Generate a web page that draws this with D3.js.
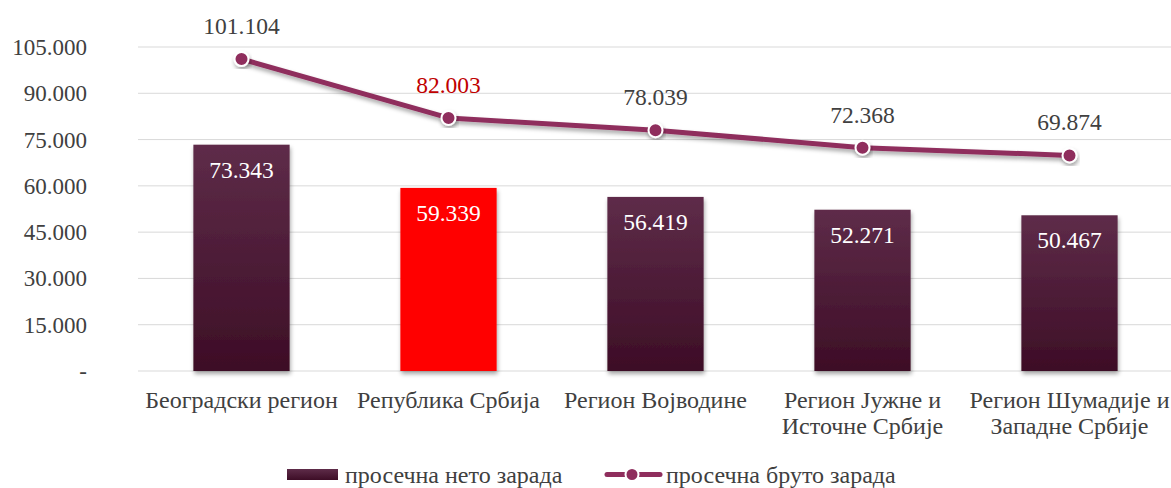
<!DOCTYPE html>
<html>
<head>
<meta charset="utf-8">
<script src="https://cdn.jsdelivr.net/npm/d3@7"></script>
<style>
  body { margin: 0; background: #fff; }
  text { font-family: "Liberation Serif", "Times New Roman", serif; }
</style>
</head>
<body>
<svg width="1171" height="488"></svg>
<script>
const regions = [["Београдски регион"], ["Република Србија"], ["Регион Војводине"],
                 ["Регион Јужне и", "Источне Србије"], ["Регион Шумадије и", "Западне Србије"]];
const netoValues = [73343, 59339, 56419, 52271, 50467];
const brutoValues = [101104, 82003, 78039, 72368, 69874];
const yTicks = [0, 15000, 30000, 45000, 60000, 75000, 90000, 105000];
const seriesNames = ["просечна нето зарада", "просечна бруто зарада"];
const highlightIndex = 1;

const svg = d3.select("svg");
const margin = { top: 47, right: 0, bottom: 117, left: 138 };
const width = 1173 - margin.left;
const height = 488 - margin.top - margin.bottom;
const fs = "24px";

const fmt = v => v === 0 ? "-" : d3.format(",.0f")(v).replace(/,/g, ".");

const defs = svg.append("defs");
const grad = defs.append("linearGradient").attr("id", "barGrad")
  .attr("x1", 0).attr("y1", 0).attr("x2", 0).attr("y2", 1);
grad.append("stop").attr("offset", "0%").attr("stop-color", "#5e2c49");
grad.append("stop").attr("offset", "100%").attr("stop-color", "#3d0d26");

const shadow = defs.append("filter").attr("id", "shadow")
  .attr("x", "-20%").attr("y", "-20%").attr("width", "140%").attr("height", "140%");
shadow.append("feDropShadow").attr("dx", 1).attr("dy", 3).attr("stdDeviation", 2)
  .attr("flood-color", "#000").attr("flood-opacity", 0.35);

const g = svg.append("g").attr("transform", `translate(${margin.left},${margin.top})`);

const x = d3.scaleBand().domain(d3.range(regions.length)).range([0, width]).paddingInner(0.535).paddingOuter(0.2675);
const y = d3.scaleLinear().domain([0, 105000]).range([height, 0]);

// grid
g.selectAll(".grid").data(yTicks).join("line")
  .attr("x1", 0).attr("x2", width)
  .attr("y1", d => y(d)).attr("y2", d => y(d))
  .attr("stroke", "#d9d9d9").attr("stroke-width", 1);

// y axis labels
g.selectAll(".ylab").data(yTicks).join("text")
  .attr("x", -51).attr("y", d => y(d)).attr("dy", "0.35em")
  .attr("text-anchor", "end").attr("fill", "#404040").attr("font-size", "23px")
  .text(fmt);

// bars
g.selectAll(".bar").data(netoValues).join("rect")
  .attr("x", (d, i) => x(i)).attr("width", x.bandwidth())
  .attr("y", d => y(d)).attr("height", d => height - y(d))
  .attr("fill", (d, i) => i === highlightIndex ? "#ff0000" : "url(#barGrad)")
  .attr("filter", "url(#shadow)");

g.selectAll(".barlab").data(netoValues).join("text")
  .attr("x", (d, i) => x(i) + x.bandwidth() / 2).attr("y", d => y(d) + 33)
  .attr("text-anchor", "middle").attr("fill", "#fff").attr("font-size", "23.5px")
  .text(fmt);

// line
const cx = i => x(i) + x.bandwidth() / 2;
const line = d3.line().x((d, i) => cx(i)).y(d => y(d));
g.append("path").datum(brutoValues)
  .attr("d", line).attr("fill", "none").attr("stroke", "#8f2e5d")
  .attr("stroke-width", 5).attr("stroke-linejoin", "round")
  .attr("filter", "url(#shadow)");

g.selectAll(".pt").data(brutoValues).join("circle")
  .attr("cx", (d, i) => cx(i)).attr("cy", d => y(d)).attr("r", 7)
  .attr("fill", "#8f2e5d").attr("stroke", "#fff").attr("stroke-width", 2)
  .attr("filter", "url(#shadow)");

g.selectAll(".ptlab").data(brutoValues).join("text")
  .attr("x", (d, i) => cx(i)).attr("y", d => y(d) - 25)
  .attr("text-anchor", "middle").attr("font-size", "23.5px")
  .attr("fill", (d, i) => i === highlightIndex ? "#c00000" : "#404040")
  .text(fmt);

// x labels
g.selectAll(".xlab").data(regions).join("text")
  .attr("x", (d, i) => cx(i)).attr("y", height + 37)
  .attr("text-anchor", "middle").attr("fill", "#404040").attr("font-size", fs)
  .each(function(d) {
    d3.select(this).selectAll("tspan").data(d).join("tspan")
      .attr("x", d3.select(this).attr("x")).attr("dy", (t, j) => j === 0 ? 0 : 26)
      .text(t => t);
  });

// legend
const lg = svg.append("g").attr("transform", "translate(0,474.5)");
lg.append("rect").attr("x", 287).attr("y", -5.5).attr("width", 51).attr("height", 11)
  .attr("fill", "url(#barGrad)");
lg.append("text").attr("x", 345).attr("y", 0).attr("dy", "0.35em")
  .attr("fill", "#404040").attr("font-size", fs).text(seriesNames[0]);
lg.append("line").attr("x1", 607).attr("x2", 660).attr("y1", 0).attr("y2", 0)
  .attr("stroke", "#8f2e5d").attr("stroke-width", 5).attr("stroke-linecap", "round");
lg.append("circle").attr("cx", 632).attr("cy", 0).attr("r", 6.5)
  .attr("fill", "#8f2e5d").attr("stroke", "#fff").attr("stroke-width", 2);
lg.append("text").attr("x", 666).attr("y", 0).attr("dy", "0.35em")
  .attr("fill", "#404040").attr("font-size", fs).text(seriesNames[1]);
</script>
</body>
</html>
